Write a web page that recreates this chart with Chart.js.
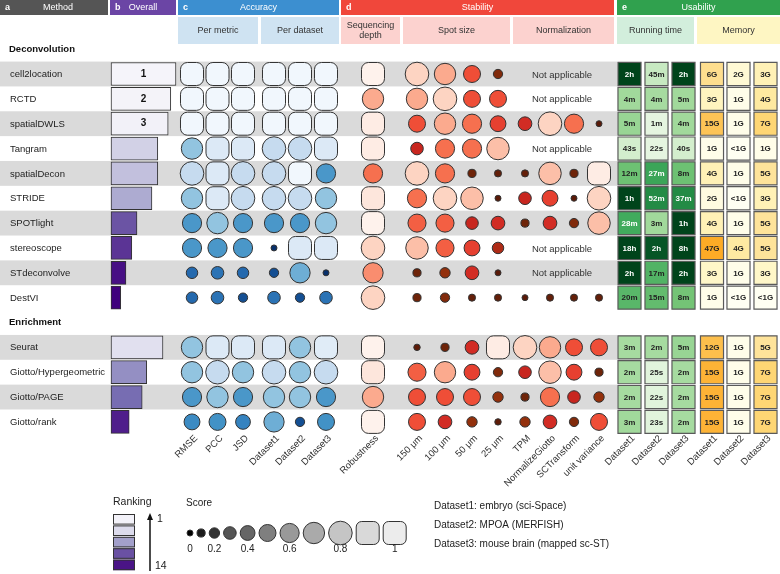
<!DOCTYPE html>
<html>
<head>
<meta charset="utf-8">
<script src="https://cdn.jsdelivr.net/npm/chart.js@4/dist/chart.umd.min.js"></script>
<style>
html, body { margin: 0; padding: 0; background: #fff; }
#wrap { width: 780px; height: 574px; }
</style>
</head>
<body>
<div id="wrap"><canvas id="chart" width="780" height="574"></canvas></div>
<script>
// ---- data ----
const methods = ['cell2location', 'RCTD', 'spatialDWLS', 'Tangram', 'spatialDecon', 'STRIDE', 'SPOTlight',
    'stereoscope', 'STdeconvolve', 'DestVI', 'Seurat', 'Giotto/Hypergeometric', 'Giotto/PAGE', 'Giotto/rank']
const methodRow = [0, 1, 2, 3, 4, 5, 6, 7, 8, 9, 11, 12, 13, 14]
const groupNames = ['Deconvolution', 'Enrichment']
const groupRow = [-1, 10]

const overallScore = [1.0, 0.92, 0.88, 0.72, 0.72, 0.63, 0.40, 0.32, 0.23, 0.15, 0.80, 0.55, 0.48, 0.28]

const accuracyLabels = ['RMSE', 'PCC', 'JSD', 'Dataset1', 'Dataset2', 'Dataset3']
const accuracyScore = [
    [1, 1, 1, 1, 1, 1],
    [1, 1, 1, 1, 1, 1],
    [1, 1, 1, 1, 1, 1],
    [0.7, 0.9, 0.9, 0.8, 0.8, 0.9],
    [0.8, 0.9, 0.8, 0.8, 1.0, 0.6],
    [0.7, 0.9, 0.8, 0.8, 0.8, 0.7],
    [0.6, 0.7, 0.6, 0.6, 0.6, 0.7],
    [0.6, 0.6, 0.6, 0.0, 0.9, 0.9],
    [0.25, 0.3, 0.25, 0.15, 0.65, 0.0],
    [0.25, 0.3, 0.15, 0.3, 0.15, 0.3],
    [0.7, 0.9, 0.9, 0.9, 0.7, 0.92],
    [0.7, 0.8, 0.7, 0.8, 0.7, 0.8],
    [0.6, 0.7, 0.6, 0.7, 0.7, 0.6],
    [0.45, 0.5, 0.4, 0.65, 0.15, 0.5]
]

const robustnessLabels = ['Robustness']
const robustnessScore = [1.0, 0.7, 0.95, 0.95, 0.6, 0.9, 1.0, 0.8, 0.65, 0.8, 1.0, 0.9, 0.7, 1.0]

const stabilityLabels = ['150 \u03bcm', '100 \u03bcm', '50 \u03bcm', '25 \u03bcm', 'TPM', 'NormalizeGiotto', 'SCTransform', 'unit variance']
const stabilityScore = [
    [0.8, 0.7, 0.5, 0.15, null, null, null, null],
    [0.7, 0.8, 0.5, 0.5, null, null, null, null],
    [0.5, 0.7, 0.6, 0.45, 0.35, 0.8, 0.6, 0.0],
    [0.3, 0.6, 0.6, 0.75, null, null, null, null],
    [0.8, 0.6, 0.1, 0.05, 0.05, 0.75, 0.1, 0.95],
    [0.6, 0.8, 0.75, 0.0, 0.3, 0.45, 0.0, 0.8],
    [0.55, 0.55, 0.3, 0.35, 0.1, 0.35, 0.15, 0.75],
    [0.75, 0.55, 0.45, 0.25, null, null, null, null],
    [0.1, 0.2, 0.35, 0.0, null, null, null, null],
    [0.1, 0.15, 0.05, 0.05, 0.0, 0.05, 0.05, 0.05],
    [0.02, 0.1, 0.35, 0.95, 0.8, 0.7, 0.5, 0.5],
    [0.55, 0.7, 0.45, 0.15, 0.3, 0.75, 0.45, 0.1],
    [0.5, 0.5, 0.5, 0.2, 0.1, 0.6, 0.3, 0.2],
    [0.5, 0.35, 0.2, 0.02, 0.2, 0.35, 0.15, 0.5]
]

const runtimeLabels = ['Dataset1', 'Dataset2', 'Dataset3']
const runtimeText = [
    ['2h', '45m', '2h'], ['4m', '4m', '5m'], ['5m', '1m', '4m'], ['43s', '22s', '40s'],
    ['12m', '27m', '8m'], ['1h', '52m', '37m'], ['28m', '3m', '1h'], ['18h', '2h', '8h'],
    ['2h', '17m', '2h'], ['20m', '15m', '8m'],
    ['3m', '2m', '5m'], ['2m', '25s', '2m'], ['2m', '22s', '2m'], ['3m', '23s', '2m']
]
const runtimeLevel = [
    [1.0, 0.25, 1.0], [0.4, 0.38, 0.4], [0.42, 0.1, 0.4], [0.2, 0.1, 0.2],
    [0.52, 0.68, 0.52], [1.0, 0.8, 0.8], [0.65, 0.4, 1.0], [1.0, 0.95, 1.0],
    [1.0, 0.6, 1.0], [0.58, 0.55, 0.5],
    [0.38, 0.38, 0.42], [0.38, 0.12, 0.38], [0.38, 0.12, 0.38], [0.4, 0.12, 0.38]
]

const memoryLabels = ['Dataset1', 'Dataset2', 'Dataset3']
const memoryText = [
    ['6G', '2G', '3G'], ['3G', '1G', '4G'], ['15G', '1G', '7G'], ['1G', '<1G', '1G'],
    ['4G', '1G', '5G'], ['2G', '<1G', '3G'], ['4G', '1G', '5G'], ['47G', '4G', '5G'],
    ['3G', '1G', '3G'], ['1G', '<1G', '<1G'],
    ['12G', '1G', '5G'], ['15G', '1G', '7G'], ['15G', '1G', '7G'], ['15G', '1G', '7G']
]
const memoryLevel = [
    [0.55, 0.15, 0.3], [0.25, 0.05, 0.42], [0.85, 0.05, 0.7], [0.05, 0.0, 0.05],
    [0.3, 0.05, 0.5], [0.1, 0.0, 0.3], [0.3, 0.05, 0.5], [1.0, 0.4, 0.5],
    [0.2, 0.05, 0.2], [0.05, 0.0, 0.0],
    [0.88, 0.05, 0.5], [0.95, 0.05, 0.7], [0.95, 0.05, 0.7], [0.95, 0.05, 0.7]
]

const scoreLegendValues = [0, 0.1, 0.2, 0.3, 0.4, 0.5, 0.6, 0.7, 0.8, 0.9, 1.0]
const scoreLegendTicks = ['0', '', '0.2', '', '0.4', '', '0.6', '', '0.8', '', '1']
const rankLegendSteps = [0.1, 0.25, 0.5, 0.7, 0.9]
const rankLegendEnds = ['1', '14']
const datasetNotes = ['Dataset1: embryo (sci-Space)', 'Dataset2: MPOA (MERFISH)', 'Dataset3: mouse brain (mapped sc-ST)']

// ---- layout ----
const W = 780, H = 574
const ROW0 = 74, PITCH = 24.85
const BAR_X0 = 111, BAR_LEN = 65
const accX = [192, 217.5, 243, 274, 300, 326]
const robustX = [373]
const stabX = [417, 445, 472, 498, 525, 550, 574, 599]
const runX = [629.5, 656.5, 683.5]
const memX = [712, 738.5, 765.5]
const FONT = '"Liberation Sans", Arial, sans-serif'

// ---- colour ramps ----
function hexToRgb(h){
    const n = parseInt(h.slice(1), 16)
    return [(n >> 16) & 255, (n >> 8) & 255, n & 255]
}
function ramp(stops, t){
    if(t <= stops[0][0]) return stops[0][1]
    for(let i = 1; i < stops.length; i++){
        if(t <= stops[i][0]){
            const [t0, c0] = stops[i - 1], [t1, c1] = stops[i]
            const f = (t - t0) / (t1 - t0)
            const a = hexToRgb(c0), b = hexToRgb(c1)
            return 'rgb(' + a.map((v, k) => Math.round(v + (b[k] - v) * f)).join(',') + ')'
        }
    }
    return stops[stops.length - 1][1]
}
const BLUES = [[0, '#08306b'], [0.1, '#0b3f80'], [0.2, '#1c5ea6'], [0.3, '#2b73b5'], [0.4, '#3583c0'],
    [0.5, '#4292c6'], [0.6, '#4a97c9'], [0.7, '#92c4e0'], [0.8, '#c6dbef'], [0.9, '#dce9f6'], [1, '#f1f7fd']]
const REDS = [[0, '#5a1a08'], [0.1, '#6e2409'], [0.2, '#93300c'], [0.3, '#c8261f'], [0.4, '#dc3128'],
    [0.5, '#ef4e37'], [0.6, '#f6704f'], [0.7, '#fbaa8e'], [0.8, '#fdd4c2'], [0.9, '#fde6dc'], [1, '#fef2ec']]
const GREYS = [[0, '#000000'], [0.1, '#1b1b1b'], [0.2, '#333333'], [0.3, '#555555'], [0.4, '#666666'],
    [0.5, '#7f7f7f'], [0.6, '#999999'], [0.7, '#aaaaaa'], [0.8, '#c5c5c5'], [0.9, '#d9d9d9'], [1, '#ececec']]
const GREENS = [[0, '#f2faef'], [0.1, '#e5f5e0'], [0.2, '#d3eecd'], [0.4, '#a1d99b'], [0.5, '#74c476'],
    [0.65, '#41ab5d'], [0.8, '#238b45'], [0.9, '#0b6530'], [1, '#00441b']]
const YELLOWS = [[0, '#fffff2'], [0.1, '#fffbe0'], [0.2, '#fff7c8'], [0.3, '#fff1b6'], [0.4, '#feeaa2'],
    [0.5, '#fee39a'], [0.55, '#fede8e'], [0.7, '#fed674'], [0.85, '#fdc456'], [1, '#fdab26']]
const PURPLES = [[0, '#f5f4fa'], [0.17, '#f2f1f8'], [0.25, '#dcdbec'], [0.35, '#cbc9e2'], [0.5, '#a3a0cb'],
    [0.62, '#756bb1'], [0.7, '#6a51a3'], [0.8, '#54278f'], [0.9, '#4a1486'], [1, '#3f007d']]

function dotRadius(s){ return s >= 0.9 ? 13.4 : (6 + 22 * s) / 2 }
function dotStyle(s){ return s >= 0.9 ? 'rectRounded' : 'circle' }

// rank from overall score
const order = overallScore.map((s, i) => i).sort((a, b) => overallScore[b] - overallScore[a])
const rank = []
order.forEach((m, k) => { rank[m] = k + 1 })
const rankT = r => (r - 1) / (methods.length - 1)

// ---- datasets ----
function scoreDataset(label, xs, scoreRows, palette){
    const pts = []
    scoreRows.forEach((row, m) => {
        row.forEach((s, c) => {
            if(s !== null) pts.push({x: xs[c], y: methodRow[m], s: s})
        })
    })
    return {
        type: 'scatter',
        label,
        data: pts,
        xAxisID: 'x',
        yAxisID: 'y',
        pointStyle: ctx => dotStyle(ctx.raw.s),
        pointRadius: ctx => dotRadius(ctx.raw.s),
        backgroundColor: ctx => ramp(palette, ctx.raw.s),
        borderColor: '#333333',
        borderWidth: 1
    }
}
function cellDataset(label, xs, levels, texts, palette){
    const pts = []
    levels.forEach((row, m) => {
        row.forEach((v, c) => pts.push({x: xs[c], y: methodRow[m], v: v, t: texts[m][c]}))
    })
    return {
        type: 'scatter',
        label,
        data: pts,
        xAxisID: 'x',
        yAxisID: 'y',
        pointStyle: 'rect',
        pointRadius: 16.3,
        backgroundColor: ctx => ramp(palette, ctx.raw.v),
        borderColor: '#5a5a5a',
        borderWidth: 1.2
    }
}

const overallDataset = {
    type: 'bar',
    label: 'Overall',
    indexAxis: 'y',
    grouped: false,
    xAxisID: 'xo',
    yAxisID: 'y',
    data: overallScore.map((s, m) => ({x: [0, s], y: methodRow[m]})),
    backgroundColor: overallScore.map((s, m) => ramp(PURPLES, rankT(rank[m]))),
    borderColor: '#333333',
    borderWidth: 1,
    borderSkipped: false,
    barThickness: 23
}

const datasets = [
    overallDataset,
    scoreDataset('Accuracy', accX, accuracyScore, BLUES),
    scoreDataset('Robustness', robustX, robustnessScore.map(s => [s]), REDS),
    scoreDataset('Stability', stabX, stabilityScore, REDS),
    cellDataset('Running time', runX, runtimeLevel, runtimeText, GREENS),
    cellDataset('Memory', memX, memoryLevel, memoryText, YELLOWS)
]

// ---- drawing helpers ----
function txt(ctx, s, x, y, font, color, align, base){
    ctx.font = font
    ctx.fillStyle = color || '#222'
    ctx.textAlign = align || 'left'
    ctx.textBaseline = base || 'middle'
    ctx.fillText(s, x, y)
}
function roundRect(ctx, x, y, w, h, r){
    ctx.beginPath()
    ctx.moveTo(x + r, y)
    ctx.arcTo(x + w, y, x + w, y + h, r)
    ctx.arcTo(x + w, y + h, x, y + h, r)
    ctx.arcTo(x, y + h, x, y, r)
    ctx.arcTo(x, y, x + w, y, r)
    ctx.closePath()
}

const headerTop = [
    {x0: 0, x1: 108, color: '#555555', letter: 'a', title: 'Method'},
    {x0: 110, x1: 176, color: '#6b45a5', letter: 'b', title: 'Overall'},
    {x0: 178, x1: 339, color: '#3c8fd0', letter: 'c', title: 'Accuracy'},
    {x0: 341, x1: 614, color: '#f0473b', letter: 'd', title: 'Stability'},
    {x0: 617, x1: 780, color: '#30a14e', letter: 'e', title: 'Usability'}
]
const headerSub = [
    {x0: 178, x1: 258, color: '#cfe3f2', title: ['Per metric']},
    {x0: 261, x1: 339, color: '#cfe3f2', title: ['Per dataset']},
    {x0: 341, x1: 400, color: '#fcd2cf', title: ['Sequencing', 'depth']},
    {x0: 403, x1: 510, color: '#fcd2cf', title: ['Spot size']},
    {x0: 513, x1: 614, color: '#fcd2cf', title: ['Normalization']},
    {x0: 617, x1: 694, color: '#d2eedc', title: ['Running time']},
    {x0: 697, x1: 780, color: '#fef6c3', title: ['Memory']}
]

const figurePlugin = {
    id: 'figure',
    beforeDatasetsDraw(chart){
        const {ctx, scales} = chart
        const y = scales.y, x = scales.x
        ctx.save()
        // alternating row bands
        methodRow.forEach((r, m) => {
            const k = r > 9 ? r - 11 : r
            if(k % 2 === 0){
                ctx.fillStyle = '#dadada'
                const py = y.getPixelForValue(r)
                ctx.fillRect(0, py - PITCH / 2, x.getPixelForValue(617), PITCH)
            }
        })
        // headers
        headerTop.forEach(h => {
            ctx.fillStyle = h.color
            ctx.fillRect(h.x0, 0, h.x1 - h.x0, 15)
            txt(ctx, h.letter, h.x0 + 5, 7.5, 'bold 9px ' + FONT, '#fff')
            txt(ctx, h.title, (h.x0 + h.x1) / 2 + (h.letter === 'a' ? 4 : 0), 7.5, '9px ' + FONT, '#fff', 'center')
        })
        headerSub.forEach(h => {
            ctx.fillStyle = h.color
            ctx.fillRect(h.x0, 17, h.x1 - h.x0, 27)
            const cy = 30.5
            h.title.forEach((t, i) => {
                const off = (i - (h.title.length - 1) / 2) * 10
                txt(ctx, t, (h.x0 + h.x1) / 2, cy + off, '9px ' + FONT, '#333', 'center')
            })
        })
        // group and method labels
        groupNames.forEach((g, i) => {
            txt(ctx, g, 9, y.getPixelForValue(groupRow[i]), 'bold 9.5px ' + FONT, '#111')
        })
        methods.forEach((m, i) => {
            txt(ctx, m, 10, y.getPixelForValue(methodRow[i]) + 0.5, '9.5px ' + FONT, '#222')
        })
        ctx.restore()
    },
    afterDatasetsDraw(chart){
        const {ctx, scales} = chart
        const y = scales.y, x = scales.x, xo = scales.xo
        ctx.save()
        // rank numbers for the top three
        methods.forEach((m, i) => {
            if(rank[i] <= 3){
                txt(ctx, String(rank[i]), xo.getPixelForValue(0.5), y.getPixelForValue(methodRow[i]),
                    'bold 10px ' + FONT, '#111', 'center')
            }
        })
        // not applicable notes
        stabilityScore.forEach((row, m) => {
            if(row.slice(4).every(v => v === null)){
                txt(ctx, 'Not applicable', x.getPixelForValue((stabX[4] + stabX[7]) / 2),
                    y.getPixelForValue(methodRow[m]) + 1, '9.5px ' + FONT, '#333', 'center')
            }
        })
        // usability cell texts
        const cellText = (xs, texts, levels) => {
            texts.forEach((row, m) => row.forEach((t, c) => {
                const dark = levels === runtimeLevel && levels[m][c] >= 0.62
                txt(ctx, t, x.getPixelForValue(xs[c]), y.getPixelForValue(methodRow[m]) + 0.5,
                    'bold 8px ' + FONT, dark ? '#ffffff' : '#222', 'center')
            }))
        }
        cellText(runX, runtimeText, runtimeLevel)
        cellText(memX, memoryText, memoryLevel)
        // rotated column labels
        const ty = y.getPixelForValue(methodRow[methodRow.length - 1]) + 15
        const colLabel = (xs, labels) => labels.forEach((l, c) => {
            ctx.save()
            ctx.translate(x.getPixelForValue(xs[c]) + 4, ty)
            ctx.rotate(-Math.PI / 4)
            txt(ctx, l, 0, 0, '9.5px ' + FONT, '#333', 'right', 'middle')
            ctx.restore()
        })
        colLabel(accX, accuracyLabels)
        colLabel(robustX, robustnessLabels)
        colLabel(stabX, stabilityLabels)
        colLabel(runX, runtimeLabels)
        colLabel(memX, memoryLabels)

        // ranking legend
        txt(ctx, 'Ranking', 113, 502, '10.5px ' + FONT, '#222')
        rankLegendSteps.forEach((t, k) => {
            ctx.fillStyle = ramp(PURPLES, t)
            ctx.fillRect(113, 514 + k * 11.4, 22, 10.6)
            ctx.strokeStyle = '#333'
            ctx.lineWidth = 1
            ctx.strokeRect(113.5, 514.5 + k * 11.4, 21, 9.6)
        })
        ctx.strokeStyle = '#111'
        ctx.lineWidth = 1.5
        ctx.beginPath()
        ctx.moveTo(150, 571)
        ctx.lineTo(150, 518)
        ctx.stroke()
        ctx.fillStyle = '#111'
        ctx.beginPath()
        ctx.moveTo(150, 513)
        ctx.lineTo(147, 520)
        ctx.lineTo(153, 520)
        ctx.closePath()
        ctx.fill()
        txt(ctx, rankLegendEnds[0], 157, 519, '10.5px ' + FONT, '#222')
        txt(ctx, rankLegendEnds[1], 155, 566, '10.5px ' + FONT, '#222')

        // score legend
        txt(ctx, 'Score', 186, 503, '10px ' + FONT, '#222')
        let lx = 187
        scoreLegendValues.forEach((s, k) => {
            const r = dotRadius(s)
            const half = s >= 0.9 ? 11.5 : r
            if(k > 0) lx += half + 4
            else lx += half
            ctx.fillStyle = ramp(GREYS, s)
            ctx.strokeStyle = '#333'
            ctx.lineWidth = 1
            if(s >= 0.9){
                roundRect(ctx, lx - 11.5, 533 - 11.5, 23, 23, 5.5)
            } else {
                ctx.beginPath()
                ctx.arc(lx, 533, r, 0, Math.PI * 2)
            }
            ctx.fill()
            ctx.stroke()
            if(scoreLegendTicks[k]) txt(ctx, scoreLegendTicks[k], lx, 549, '10px ' + FONT, '#222', 'center')
            lx += half
        })

        // dataset notes
        datasetNotes.forEach((n, i) => txt(ctx, n, 434, 506 + i * 19, '10px ' + FONT, '#222'))
        ctx.restore()
    }
}

new Chart(document.getElementById('chart'), {
    type: 'scatter',
    data: {datasets},
    options: {
        responsive: false,
        animation: false,
        events: [],
        layout: {padding: 0, autoPadding: false},
        plugins: {legend: {display: false}, tooltip: {enabled: false}},
        scales: {
            x: {type: 'linear', min: 0, max: W, display: false, offset: false},
            xo: {type: 'linear', axis: 'x', min: -BAR_X0 / BAR_LEN, max: (W - BAR_X0) / BAR_LEN, display: false, offset: false},
            y: {type: 'linear', min: -ROW0 / PITCH, max: (H - ROW0) / PITCH, reverse: true, display: false, offset: false}
        }
    },
    plugins: [figurePlugin]
})
</script>
</body>
</html>
